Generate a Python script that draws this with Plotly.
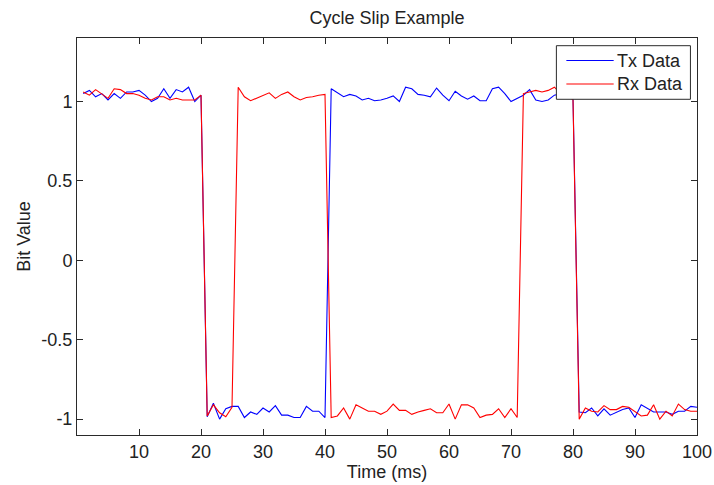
import plotly.graph_objects as go

# Sample index (ms)
time_ms = list(range(1, 101))

# Transmitted bit stream (noisy)
tx_data = [
    1.05, 1.07, 1.03, 1.05, 1.01, 1.05, 1.02, 1.06, 1.06, 1.07,
    1.04, 1.00, 1.02, 1.08, 1.02, 1.075, 1.06, 1.09, 1.00, 1.04,
    -0.985, -0.90, -1.00, -0.935, -0.92, -0.92, -0.99, -0.955, -0.97, -0.93,
    -0.955, -0.915, -0.975, -0.975, -0.99, -0.99, -0.92, -0.95, -0.95, -0.99,
    1.08, 1.055, 1.03, 1.045, 1.035, 1.01, 1.02, 1.005, 1.01, 1.02,
    1.035, 1.00, 1.09, 1.08, 1.045, 1.04, 1.03, 1.085, 1.04, 1.005,
    1.065, 1.035, 1.015, 1.035, 1.005, 1.005, 1.08, 1.09, 1.05, 1.00,
    1.02, 1.04, 1.075, 1.01, 1.00, 1.01, 1.04, 1.05, 1.06, 1.02,
    -0.955, -0.96, -0.93, -0.98, -0.935, -0.975, -0.955, -0.94, -0.93, -0.99,
    -0.91, -0.93, -0.955, -0.955, -0.955, -0.97, -0.95, -0.95, -0.92, -0.925,
]

# Received bit stream with cycle slips
rx_data = [
    1.06, 1.04, 1.075, 1.05, 1.02, 1.08, 1.075, 1.05, 1.05, 1.04,
    1.02, 1.01, 1.03, 1.03, 1.01, 1.02, 1.01, 1.01, 1.01, 1.04,
    -0.98, -0.91, -0.96, -0.985, -0.925, 1.09, 1.03, 1.005, 1.02, 1.035,
    1.055, 1.02, 1.045, 1.06, 1.03, 1.01, 1.025, 1.03, 1.04, 1.045,
    -0.99, -0.98, -0.93, -1.00, -0.91, -0.93, -0.95, -0.95, -0.97, -0.95,
    -0.905, -0.945, -0.945, -0.97, -0.955, -0.945, -0.935, -0.96, -0.96, -0.905,
    -1.00, -0.91, -0.91, -0.93, -0.99, -0.975, -0.97, -0.935, -0.99, -0.935,
    -0.99, 1.05, 1.06, 1.07, 1.06, 1.07, 1.09, 1.05, 1.04, 1.01,
    -1.00, -0.93, -0.95, -0.955, -0.915, -0.94, -0.94, -0.92, -0.925, -0.95,
    -0.98, -0.975, -0.91, -1.00, -0.95, -0.98, -0.905, -0.94, -0.95, -0.95,
]

series_names = ["Tx Data", "Rx Data"]
series_colors = ["#0000ff", "#ff0000"]

x_ticks = [10, 20, 30, 40, 50, 60, 70, 80, 90, 100]
y_ticks = [-1, -0.5, 0, 0.5, 1]
y_tick_text = ["-1", "-0.5", "0", "0.5", "1"]

FONT = "Liberation Sans, Arial, sans-serif"
FS = 18
TEXT_COLOR = "#222222"
AXIS_COLOR = "#2a2a2a"

fig = go.Figure()
for name, ys, color in zip(series_names, [tx_data, rx_data], series_colors):
    fig.add_trace(go.Scatter(x=time_ms, y=ys, mode="lines", name=name,
                             line=dict(color=color, width=1.1),
                             showlegend=False))

axis_common = dict(
    showline=True, linecolor=AXIS_COLOR, linewidth=1, mirror="ticks",
    ticks="inside", ticklen=6, tickcolor=AXIS_COLOR, tickwidth=1,
    showgrid=False, zeroline=False, automargin=False,
    tickfont=dict(family=FONT, size=FS, color=TEXT_COLOR),
)

# Boxed legend in the upper-right corner of the axes (paper coordinates)
legend_box = dict(x0=0.7732, x1=0.9894, y0=0.8456, y1=0.9806)
legend_rows_y = [0.9433, 0.8841]
legend_line_x = (0.7893, 0.8656)
legend_text_x = 0.8680

shapes = [dict(type="rect", xref="paper", yref="paper", **legend_box,
               fillcolor="white", line=dict(color=AXIS_COLOR, width=1),
               layer="above")]
annotations = []
for name, color, ry in zip(series_names, series_colors, legend_rows_y):
    shapes.append(dict(type="line", xref="paper", yref="paper",
                       x0=legend_line_x[0], x1=legend_line_x[1], y0=ry, y1=ry,
                       line=dict(color=color, width=1.1), layer="above"))
    annotations.append(dict(text=name, xref="paper", yref="paper",
                            x=legend_text_x, y=ry, xanchor="left",
                            yanchor="middle", showarrow=False,
                            font=dict(family=FONT, size=FS, color=TEXT_COLOR)))

fig.update_layout(
    width=714, height=485,
    paper_bgcolor="white", plot_bgcolor="white",
    margin=dict(l=77, r=17, t=38, b=50),
    font=dict(family=FONT, size=FS, color=TEXT_COLOR),
    title=dict(text="Cycle Slip Example", x=0.542, xanchor="center",
               y=0.964, yanchor="middle", yref="container",
               font=dict(family=FONT, size=FS, color=TEXT_COLOR)),
    xaxis=dict(range=[0, 100], tickvals=x_ticks,
               title=dict(text="Time (ms)", standoff=2,
                          font=dict(family=FONT, size=FS, color=TEXT_COLOR)),
               **axis_common),
    yaxis=dict(range=[-1.1, 1.4], tickvals=y_ticks, ticktext=y_tick_text,
               title=dict(text="Bit Value", standoff=6,
                          font=dict(family=FONT, size=FS, color=TEXT_COLOR)),
               **axis_common),
    shapes=shapes,
    annotations=annotations,
    showlegend=False,
)

fig.write_html("out.html")
